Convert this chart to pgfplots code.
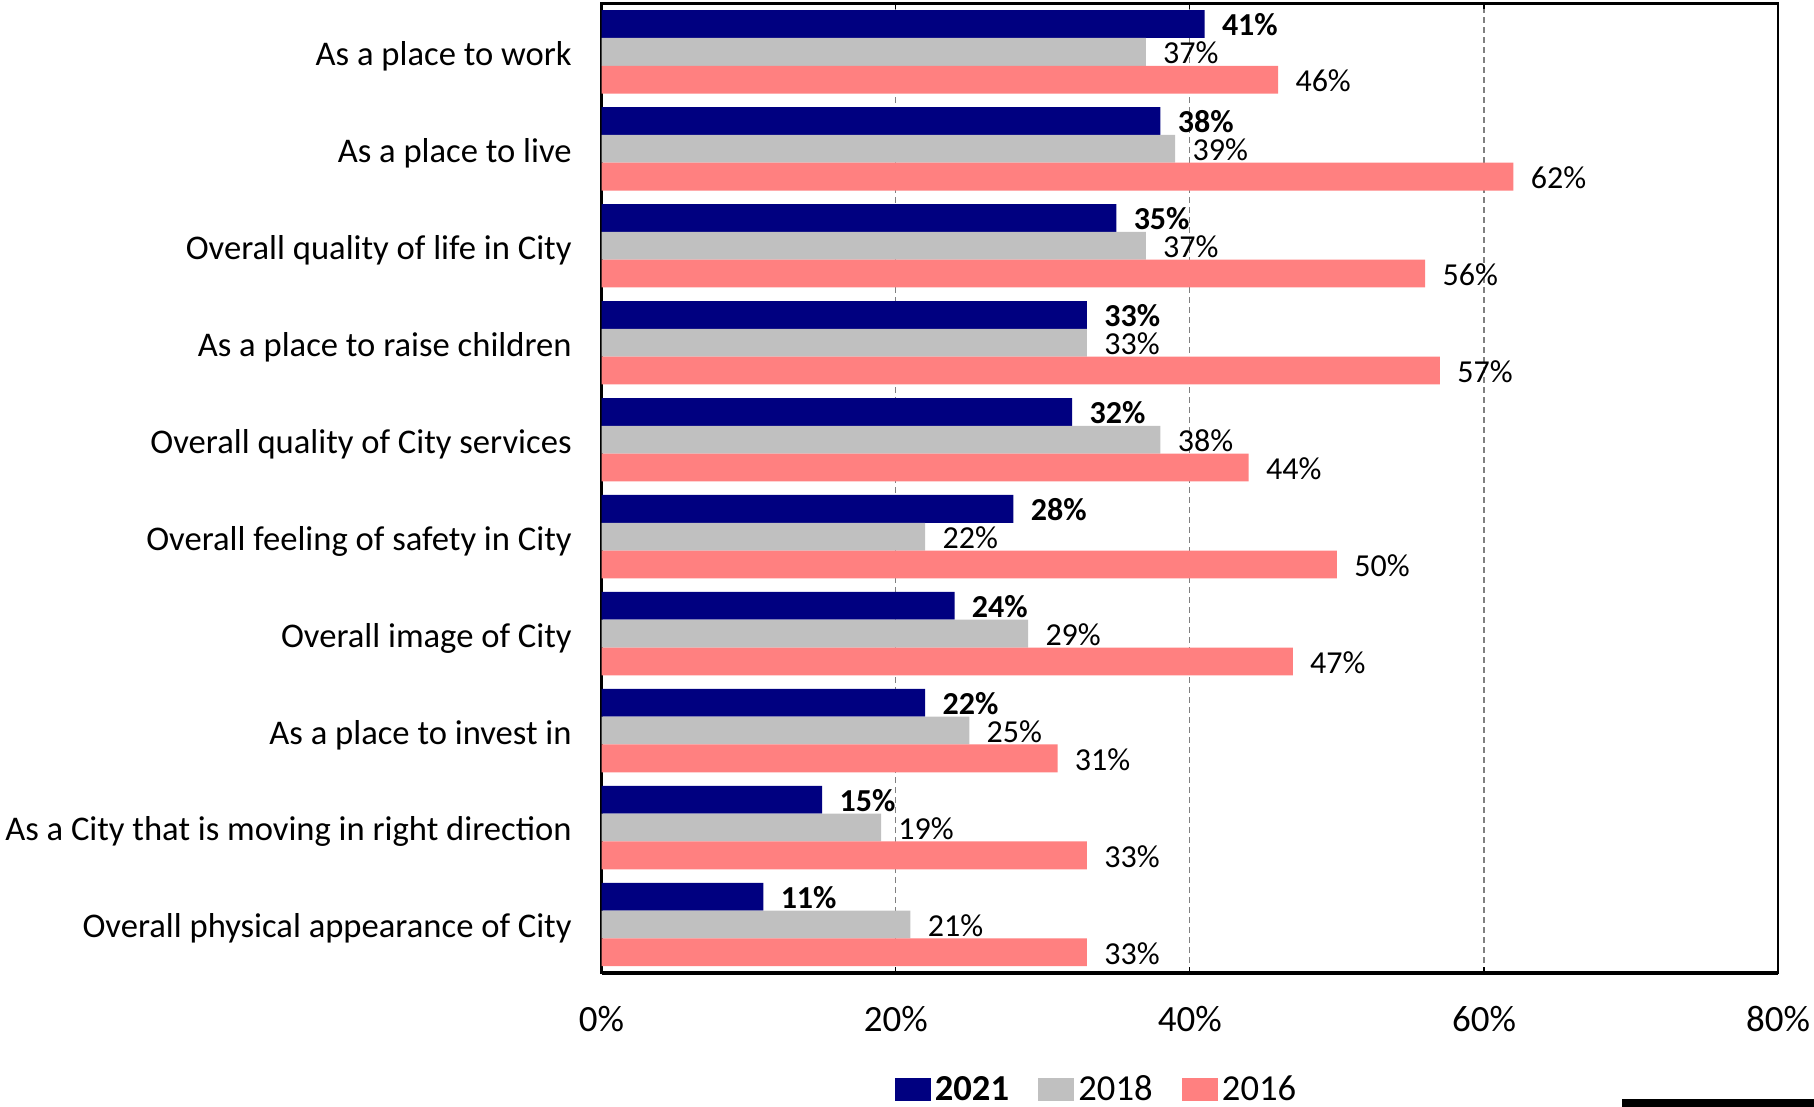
\documentclass[border=0pt]{standalone}
\usepackage{fontspec}
\setmainfont{Carlito}
\usepackage{pgfplots}
\usepackage{pgfplotstable}
\pgfplotsset{compat=1.18}
\definecolor{c21}{RGB}{0,0,128}
\definecolor{c18}{RGB}{192,192,192}
\definecolor{c16}{RGB}{255,128,128}
\pgfplotstableread{
y v21 v18 v16
9 41 37 46
8 38 39 62
7 35 37 56
6 33 33 57
5 32 38 44
4 28 22 50
3 24 29 47
2 22 25 31
1 15 19 33
0 11 21 33
}\datatable
\begin{document}
\begin{tikzpicture}
\path[use as bounding box] (-300.8bp,-67bp) rectangle (606.2bp,486.5bp);
\begin{axis}[
 scale only axis, width=588.3bp, height=484.8bp,
 xbar, bar width=13.9bp,
 xmin=0, xmax=80, ymin=-0.5, ymax=9.5,
 axis line style={line width=1.2bp},
 /pgf/number format/assume math mode=true,
 xtick={0,20,40,60,80}, xticklabels={0\%,20\%,40\%,60\%,80\%},
 xticklabel style={font=\fontsize{18.5bp}{20bp}\selectfont, anchor=base, inner sep=0pt, yshift=-29.4bp},
 xtick style={black, line width=0.6bp},
 major tick length=3bp,
 xmajorgrids, grid style={gray, dashed, line width=0.6bp, dash pattern=on 3bp off 2bp},
 ytick={0,...,9},
 yticklabels={Overall physical appearance of City, As a City that is moving in right direction, As a place to invest in, Overall image of City, Overall feeling of safety in City, Overall quality of City services, As a place to raise children, Overall quality of life in City, As a place to live, As a place to work},
 yticklabel style={font=\fontsize{17.3bp}{20bp}\selectfont, anchor=base east, inner sep=0pt, xshift=-11.8bp, yshift=-6.7bp},
 ytick style={draw=none},
 nodes near coords={\pgfmathprintnumber{\pgfplotspointmeta}\%},
 every node near coord/.append style={font=\fontsize{16bp}{18bp}\selectfont, anchor=west, inner sep=0pt, xshift=8.5bp, yshift=-0.5bp, text=black},
 legend columns=3,
 legend style={draw=none, at={(0.4215,-0.1205)}, anchor=center, font=\fontsize{18.3bp}{20bp}\selectfont, column sep=0pt,
   /tikz/every even column/.append style={column sep=12.7bp}},
 legend cell align=left,
 legend image code/.code={\fill[#1] (0bp,-5.75bp) rectangle (18bp,5.75bp);},
]
\addplot[fill=c21, draw=none, bar shift=13.9bp, every node near coord/.append style={font=\bfseries\fontsize{16bp}{18bp}\selectfont}] table[x=v21, y=y] {\datatable};
\addplot[fill=c18, draw=none, bar shift=0bp] table[x=v18, y=y] {\datatable};
\addplot[fill=c16, draw=none, bar shift=-13.9bp] table[x=v16, y=y] {\datatable};
\legend{\textbf{2021},2018,2016}
\end{axis}
\draw[line width=1.8bp] (0,0) -- (588.3bp,0);
\fill[black] (510.2bp,-67bp) rectangle (606.2bp,-63bp);
\end{tikzpicture}
\end{document}
